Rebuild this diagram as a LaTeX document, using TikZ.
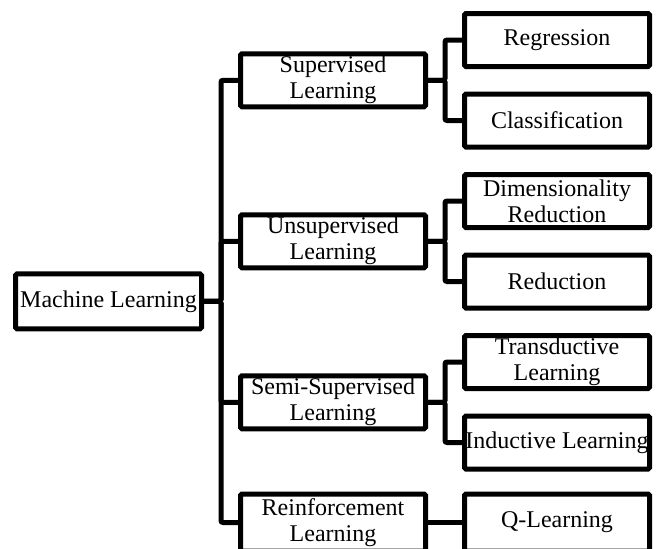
\documentclass[tikz,border=0pt]{standalone}
\usepackage{fontspec}
\setmainfont{Liberation Serif}
\usetikzlibrary{positioning, calc}

\begin{document}
\begin{tikzpicture}[
    x=1pt, y=1pt,
    node distance=22.5pt,
    every node/.style={font=\fontsize{24}{26}\selectfont},
    box/.style={
        rectangle,
        rounded corners=1.5pt,
        draw=black,
        line width=5pt,
        minimum height=53pt,
        minimum width=185pt,
        inner xsep=0.5pt,
        inner ysep=1pt,
        align=center
    },
    lastbox/.style={
        box,
        minimum height=57pt
    },
    link/.style={
        draw=black,
        line width=5pt,
        rounded corners=2pt
    }
]
\useasboundingbox (0,0) rectangle (657,-549);

% Nodes - right column
\node[box] (reg) at (557,-40) {Regression};
\node[box, below=of reg] (cls) {Classification};
\node[box, below=of cls] (dim) {Dimensionality\\Reduction};
\node[box, below=of dim] (red) {Reduction};
\node[box, below=of red] (trans) {Transductive\\Learning};
\node[box, below=of trans] (ind) {Inductive Learning};
\node[lastbox, below=20pt of ind] (ql) {Q-Learning};

% Nodes - middle column
\coordinate (supmid) at ($(reg.west)!0.5!(cls.west)$);
\coordinate (unsupmid) at ($(dim.west)!0.5!(red.west)$);
\coordinate (semimid) at ($(trans.west)!0.5!(ind.west)$);
\node[box, left=34pt of supmid] (sup) {Supervised\\Learning};
\node[box, left=34pt of unsupmid] (unsup) {Unsupervised\\Learning};
\node[box, left=34pt of semimid] (semi) {Semi-Supervised\\Learning};
\node[lastbox, left=34pt of ql] (rl) {Reinforcement\\Learning};

% Nodes - root
\coordinate (mlmid) at ($(sup.west)!0.5!(rl.west)$);
\node[box, minimum width=186pt, minimum height=55pt, left=34pt of mlmid] (ml) {Machine Learning};

% Links - root to middle
\draw[link] (ml.east) -- ++(17,0) |- (sup.west);
\draw[link] (ml.east) -- ++(17,0) |- (unsup.west);
\draw[link] (ml.east) -- ++(17,0) |- (semi.west);
\draw[link] (ml.east) -- ++(17,0) |- (rl.west);

% Links - middle to right
\draw[link] (sup.east) -- ++(17,0) |- (reg.west);
\draw[link] (sup.east) -- ++(17,0) |- (cls.west);
\draw[link] (unsup.east) -- ++(17,0) |- (dim.west);
\draw[link] (unsup.east) -- ++(17,0) |- (red.west);
\draw[link] (semi.east) -- ++(17,0) |- (trans.west);
\draw[link] (semi.east) -- ++(17,0) |- (ind.west);
\draw[link] (rl) -- (ql);

\end{tikzpicture}
\end{document}
